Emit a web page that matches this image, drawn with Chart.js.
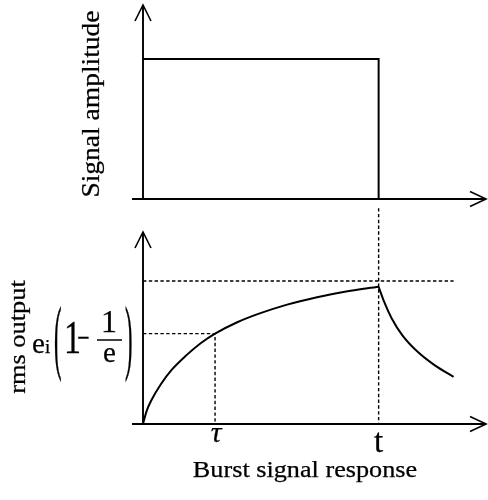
<!DOCTYPE html>
<html>
<head>
<meta charset="utf-8">
<script src="https://cdn.jsdelivr.net/npm/chart.js@4.4.1/dist/chart.umd.min.js"></script>
<style>
  html, body { margin: 0; padding: 0; background: #fff; overflow: hidden; }
  #wrap { position: relative; width: 488px; height: 500px; }
  #wrap canvas { position: absolute; left: 0; top: 0; }
</style>
</head>
<body>
<div id="wrap">
  <canvas id="burst" width="488" height="500"></canvas>
  <canvas id="rms" width="488" height="500"></canvas>
</div>
<script>
// ---- time axis (units of the time constant tau) ----
const TAU = 1.0;            // time constant
const T_END = 3.27;         // end of the burst
const X_MAX = 4.76;         // arrow tip of the time axes

// ---- upper panel: input burst ----
const BURST_X = [0, T_END, T_END];
const BURST_Y = [1, 1, 0];
const BURST_Y_MAX = 1.386;

// ---- lower panel: rms detector output ----
const RISE_X = [0, 0.05, 0.12, 0.25, 0.4, 0.6, 0.8, 1.0, 1.3, 1.6, 2.0, 2.4, 2.8, 3.27];
const RISE_Y = [0, 0.09, 0.17, 0.28, 0.38, 0.48, 0.565, 0.632, 0.71, 0.77, 0.835, 0.885, 0.925, 0.96];
const DECAY_X = [3.27, 3.35, 3.45, 3.6, 3.8, 4.05, 4.31];
const DECAY_Y = [0.96, 0.85, 0.74, 0.62, 0.51, 0.41, 0.33];
const E_I = 1;              // final value e_i
const TAU_LEVEL = 0.632;    // e_i (1 - 1/e)
const T_GUIDE_TOP = 1.51;   // t marker runs up to the upper panel's axis
const RMS_Y_MAX = 1.343;

// ---- tick labels on the lower time axis ----
const TICK_LABELS = ['τ', 't'];
const TICK_VALUES = [TAU, T_END];

const INK = '#000';
const SERIF = '"Liberation Serif", "Times New Roman", serif';

const pts = (xs, ys) => xs.map((x, i) => ({ x, y: ys[i] }));

function drawText(ctx, s, x, y, o) {
  ctx.save();
  ctx.translate(x, y);
  if (o.rot) ctx.rotate(o.rot);
  ctx.scale(o.sx || 1, o.sy || 1);
  ctx.font = o.font;
  ctx.textAlign = o.align || 'left';
  ctx.textBaseline = 'alphabetic';
  ctx.fillStyle = INK;
  ctx.strokeStyle = INK;
  ctx.lineWidth = 0.25;
  ctx.fillText(s, 0, 0);
  ctx.strokeText(s, 0, 0);
  ctx.restore();
}

// Axes with open arrowheads, plus panel annotations
const arrowAxes = {
  id: 'arrowAxes',
  beforeDatasetsDraw(chart) {
    const { ctx, chartArea: a, scales } = chart;
    const x0 = scales.x.getPixelForValue(0);
    const y0 = scales.y.getPixelForValue(0);
    ctx.save();
    ctx.strokeStyle = INK;
    ctx.lineWidth = 1.9;
    ctx.beginPath();
    ctx.moveTo(x0, y0); ctx.lineTo(x0, a.top);
    ctx.moveTo(x0 - 11, y0); ctx.lineTo(a.right, y0);
    ctx.stroke();
    ctx.lineWidth = 1.6;
    ctx.beginPath();
    ctx.moveTo(x0 - 8, a.top + 16); ctx.lineTo(x0, a.top); ctx.lineTo(x0 + 8, a.top + 16);
    ctx.moveTo(a.right - 16, y0 - 7.5); ctx.lineTo(a.right, y0); ctx.lineTo(a.right - 16, y0 + 7.5);
    ctx.stroke();
    ctx.restore();
  },
  afterDatasetsDraw(chart, args, opts) {
    if (opts.annotate) opts.annotate(chart.ctx, chart);
  }
};

const common = (padTop, padBottom, yMax, annotate) => ({
  responsive: false,
  animation: false,
  devicePixelRatio: 1,
  layout: { padding: { left: 143, right: 2, top: padTop, bottom: padBottom } },
  scales: {
    x: { type: 'linear', min: 0, max: X_MAX, display: false },
    y: { type: 'linear', min: 0, max: yMax, display: false }
  },
  elements: { point: { radius: 0 } },
  plugins: {
    legend: { display: false },
    tooltip: { enabled: false },
    arrowAxes: { annotate }
  }
});

const solid = { borderColor: INK, borderWidth: 2, fill: false, pointRadius: 0 };
const dotted = { borderColor: INK, borderWidth: 1.4, borderDash: [3.4, 2.4], fill: false, pointRadius: 0, tension: 0 };

// Upper panel: burst amplitude
new Chart(document.getElementById('burst'), {
  type: 'line',
  data: {
    datasets: [
      { ...solid, data: pts(BURST_X, BURST_Y), tension: 0, clip: false }
    ]
  },
  options: common(5, 301, BURST_Y_MAX, (ctx) => {
    drawText(ctx, 'Signal amplitude', 99, 104, {
      font: '25px ' + SERIF, align: 'center', rot: -Math.PI / 2, sx: 1.1
    });
  }),
  plugins: [arrowAxes]
});

// Lower panel: rms output
new Chart(document.getElementById('rms'), {
  type: 'line',
  data: {
    datasets: [
      { ...solid, data: pts(RISE_X, RISE_Y), cubicInterpolationMode: 'monotone' },
      { ...solid, data: pts(DECAY_X, DECAY_Y), cubicInterpolationMode: 'monotone' },
      { ...dotted, data: [{ x: 0, y: E_I }, { x: DECAY_X[DECAY_X.length - 1], y: E_I }] },
      { ...dotted, data: [{ x: 0, y: TAU_LEVEL }, { x: TAU, y: TAU_LEVEL }, { x: TAU, y: 0 }] },
      { ...dotted, data: [{ x: T_END, y: T_GUIDE_TOP }, { x: T_END, y: 0 }], clip: false }
    ]
  },
  options: common(232, 76, RMS_Y_MAX, (ctx, chart) => {
    const xs = chart.scales.x;
    // time axis marks
    drawText(ctx, TICK_LABELS[0], xs.getPixelForValue(TICK_VALUES[0]) + 1, 442, {
      font: 'italic 30px ' + SERIF, align: 'center'
    });
    drawText(ctx, TICK_LABELS[1], xs.getPixelForValue(TICK_VALUES[1]), 452, {
      font: '33px ' + SERIF, align: 'center'
    });
    // titles
    drawText(ctx, 'Burst signal response', 305, 477, {
      font: '23px ' + SERIF, align: 'center', sx: 1.14
    });
    drawText(ctx, 'rms output', 25, 337, {
      font: '24px ' + SERIF, align: 'center', rot: -Math.PI / 2, sx: 1.1
    });
    // level label  e_i (1 - 1/e)
    drawText(ctx, 'e', 32, 353, { font: '29px ' + SERIF });
    drawText(ctx, 'i', 45, 353, { font: '19px ' + SERIF });
    drawText(ctx, '(', 54, 363.5, { font: '30px ' + SERIF, sx: 0.75, sy: 2.73 });
    drawText(ctx, '1', 64, 353, { font: '34px ' + SERIF, sy: 1.35 });
    drawText(ctx, '\u2212', 77, 349, { font: '34px ' + SERIF, sx: 0.65 });
    drawText(ctx, '1', 109, 332, { font: '32px ' + SERIF, align: 'center' });
    drawText(ctx, 'e', 109.5, 362, { font: '29px ' + SERIF, align: 'center' });
    drawText(ctx, ')', 125, 363.5, { font: '30px ' + SERIF, sx: 0.75, sy: 2.73 });
    ctx.save();
    ctx.strokeStyle = INK;
    ctx.lineWidth = 1.5;
    ctx.beginPath();
    ctx.moveTo(97, 340); ctx.lineTo(122, 340);
    ctx.stroke();
    ctx.restore();
  }),
  plugins: [arrowAxes]
});
</script>
</body>
</html>
